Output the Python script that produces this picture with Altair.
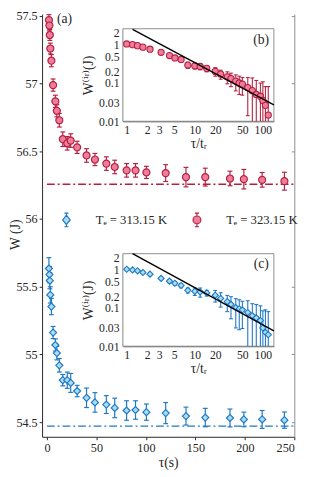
import altair as alt
import pandas as pd

# ---------------- data ----------------
tau = [2, 2.5, 2.9, 3.4, 4.5, 6.2, 8.5, 10, 12.5, 16, 20.5, 24, 30.5, 40, 48.5,
       60, 68.5, 80.5, 89.5, 100.5, 120, 140.5, 160, 185, 199, 217.5, 240]
W_red = [57.47, 57.43, 57.36, 57.26, 57.17, 56.99, 56.87, 56.80, 56.73, 56.59,
         56.56, 56.58, 56.53, 56.47, 56.44, 56.41, 56.385, 56.36, 56.36, 56.345,
         56.34, 56.31, 56.31, 56.30, 56.295, 56.29, 56.28]
err_red = [0.04, 0.04, 0.04, 0.04, 0.045, 0.045, 0.045, 0.045, 0.05, 0.054,
           0.05, 0.05, 0.045, 0.05, 0.045, 0.05, 0.05, 0.05, 0.05, 0.045,
           0.062, 0.072, 0.066, 0.054, 0.072, 0.054, 0.066]
W_blue = [55.635, 55.59, 55.545, 55.44, 55.354, 55.162, 55.07, 55.01, 54.92, 54.81,
          54.81, 54.79, 54.73, 54.68, 54.646, 54.63, 54.605, 54.586, 54.59, 54.574,
          54.567, 54.545, 54.534, 54.531, 54.52, 54.52, 54.515]
err_blue = [0.08, 0.06, 0.06, 0.06, 0.06, 0.045, 0.045, 0.05, 0.05, 0.042,
            0.06, 0.07, 0.042, 0.072, 0.072, 0.066, 0.072, 0.072, 0.068, 0.06,
            0.078, 0.066, 0.068, 0.066, 0.054, 0.066, 0.06]
W_inf_red = 56.257
W_inf_blue = 54.471
tau_line = [0, 250]

# insets: tau / t_r  and  W^(ir)
x_inset = [1, 1.22, 1.44, 1.73, 2.2, 3.2, 4.25, 5.1, 6.3, 7.9, 10, 12, 15, 20, 24,
           30, 34, 40, 45, 50, 60, 70, 80, 92, 100, 109, 120]
Wir_red = [1.04, 1.0, 0.94, 0.86, 0.76, 0.63, 0.52, 0.45, 0.41, 0.293, 0.28, 0.27,
           0.24, 0.20, 0.17, 0.145, 0.13, 0.112, 0.10, 0.093, 0.076, 0.063, 0.05,
           0.045, 0.035, 0.026, 0.0145]
Wir_blue = [1.02, 0.98, 0.93, 0.84, 0.76, 0.59, 0.50, 0.44, 0.385, 0.287, 0.271,
            0.261, 0.246, 0.214, 0.177, 0.146, 0.124, 0.102, 0.095, 0.089, 0.076,
            0.063, 0.055, 0.047, 0.030, 0.023, 0.020]
fit_x = [1.22, 145]
fit_red = [2.5, 0.0268]
fit_blue = [2.6, 0.025]

legend_labels = ["Tₑ = 313.15 K", "Tₑ = 323.15 K"]
main_y_ticks = [54.5, 55, 55.5, 56, 56.5, 57, 57.5]
main_x_ticks = [0, 50, 100, 150, 200, 250]
inset_x_ticks = [1, 2, 3, 5, 10, 20, 50, 100]
inset_y_ticks = [0.01, 0.03, 0.1, 0.2, 0.5, 1, 2]
inset_x_domain = [0.88, 145]
inset_y_domain = [0.01, 2.6]

# ---------------- style ----------------
FONT = "'Liberation Serif', 'Times New Roman', 'DejaVu Serif', serif"
RED, RED_F = "#B3203F", "#F07C9C"
BLUE, BLUE_F = "#1F78C4", "#A6DDF5"
INK = "#262626"
W_PLOT, H_PLOT = 259, 434

xs = alt.Scale(domain=[-4.92, 250], nice=False, zero=False)
ys = alt.Scale(domain=[54.392, 57.514], nice=False, zero=False)
ax_x = alt.Axis(values=main_x_ticks, format="d", title="τ(s)", orient="bottom",
                domainColor=INK, tickColor=INK, tickSize=3, labelFontSize=12.5,
                titleFontSize=14, titleFontWeight="normal", labelPadding=2,
                titlePadding=2, grid=False, labelFont=FONT, titleFont=FONT)
ax_y = alt.Axis(values=main_y_ticks, format="~g", title="W (J)", orient="left",
                domainColor=INK, tickColor=INK, tickSize=3, labelFontSize=12.5,
                titleFontSize=14, titleFontWeight="normal", labelPadding=2,
                titleX=-27, titleY=226, titleBaseline="middle", grid=False,
                labelFont=FONT, titleFont=FONT)


def X(field):
    return alt.X(field, type="quantitative", scale=xs, axis=ax_x)


def Y(field):
    return alt.Y(field, type="quantitative", scale=ys, axis=ax_y)


def main_series(W, err, color, fill, shape):
    df = pd.DataFrame({"tau": tau, "W": W,
                       "lo": [w - e for w, e in zip(W, err)],
                       "hi": [w + e for w, e in zip(W, err)]})
    base = alt.Chart(df)
    bar = base.mark_rule(color=color, strokeWidth=1.2).encode(
        x=X("tau"), y=Y("lo"), y2="hi")
    cap_lo = base.mark_tick(orient="horizontal", size=5, thickness=1.2,
                            color=color, opacity=1).encode(x=X("tau"), y=Y("lo"))
    cap_hi = base.mark_tick(orient="horizontal", size=5, thickness=1.2,
                            color=color, opacity=1).encode(x=X("tau"), y=Y("hi"))
    pts = base.mark_point(shape=shape, filled=True, fill=fill, stroke=color,
                          strokeWidth=1.2, size=52, opacity=1).encode(
        x=X("tau"), y=Y("W"))
    return [bar, cap_lo, cap_hi, pts]


def asymptote(value, color):
    df = pd.DataFrame({"tau": tau_line, "W": [value] * len(tau_line)})
    return alt.Chart(df).mark_line(color=color, strokeWidth=1.4,
                                   strokeDash=[8, 3, 2, 3]).encode(
        x=X("tau"), y=Y("W"))


# legend (symbols = marker with its error bar)
path_diamond = ("M-0.3,-1H0.3M0,-1V-0.7M0,0.7V1M-0.3,1H0.3"
                "M0,-0.7L0.55,0L0,0.7L-0.55,0Z")
path_circle = ("M-0.3,-1H0.3M0,-1V-0.57M0,0.57V1M-0.3,1H0.3"
               "M0.57,0A0.57,0.57 0 1,1 -0.57,0A0.57,0.57 0 1,1 0.57,0Z")
leg_df = pd.DataFrame({"leg": legend_labels})
leg_layer = alt.Chart(leg_df).mark_point(filled=True, opacity=0, size=196,
                                         strokeWidth=1.2).encode(
    shape=alt.Shape("leg:N", scale=alt.Scale(domain=legend_labels,
                                             range=[path_diamond, path_circle]),
                    legend=alt.Legend(orient="none", legendX=17, legendY=203,
                                      direction="horizontal", title=None,
                                      labelFont=FONT, labelFontSize=13,
                                      labelColor=INK, labelOffset=22,
                                      columnPadding=22, symbolOpacity=1,
                                      symbolStrokeWidth=1.2, symbolSize=196)),
    fill=alt.Fill("leg:N", scale=alt.Scale(domain=legend_labels,
                                           range=[BLUE_F, RED_F])),
    stroke=alt.Stroke("leg:N", scale=alt.Scale(domain=legend_labels,
                                               range=[BLUE, RED])),
)

label_a = alt.Chart(pd.DataFrame({"t": ["(a)"]})).mark_text(
    font=FONT, fontSize=14, color=INK).encode(
    text="t:N", x=alt.value(23), y=alt.value(5))

main_group = alt.layer(
    asymptote(W_inf_red, RED), asymptote(W_inf_blue, BLUE),
    *main_series(W_red, err_red, RED, RED_F, "circle"),
    *main_series(W_blue, err_blue, BLUE, BLUE_F, "diamond"),
    leg_layer, label_a,
)


# ---------------- insets ----------------
def inset(yvals, errs, fit_y, color, fill, shape, y_range, label, label_y):
    xsc = alt.Scale(type="log", domain=inset_x_domain, range=[83, 238], nice=False)
    ysc = alt.Scale(type="log", domain=inset_y_domain, range=y_range, nice=False)
    axx = alt.Axis(orient="bottom", offset=y_range[0] - H_PLOT, values=inset_x_ticks,
                   format="~g", title="τ/tᵣ", domainColor=INK, ticks=False,
                   labelPadding=4, labelFontSize=12, titleFontSize=14,
                   titleFontWeight="normal", titlePadding=1, labelOverlap=False,
                   labelFlush=False, grid=False, labelFont=FONT, titleFont=FONT)
    axy = alt.Axis(orient="left", offset=-83, values=inset_y_ticks, format="~g",
                   title="W⁽ⁱʳ⁾(J)", domainColor=INK, ticks=False, labelPadding=4,
                   labelFontSize=12, titleFontSize=14, titleFontWeight="normal",
                   titlePadding=3, labelOverlap=False, labelFlush=False, grid=False,
                   labelFont=FONT, titleFont=FONT)

    def IX(f):
        return alt.X(f, type="quantitative", scale=xsc, axis=axx)

    def IY(f):
        return alt.Y(f, type="quantitative", scale=ysc, axis=axy)

    ymin = inset_y_domain[0]
    df = pd.DataFrame({"x": x_inset, "v": yvals,
                       "lo": [max(v - e, ymin) for v, e in zip(yvals, errs)],
                       "hi": [v + e for v, e in zip(yvals, errs)]})
    df_lo = df[df["lo"] > ymin]
    frame = alt.Chart(pd.DataFrame({"x": [inset_x_domain[0]], "x2": [inset_x_domain[1]],
                                    "y": [inset_y_domain[0]], "y2": [inset_y_domain[1]]})
                      ).mark_rect(fill="white", stroke="#8c8c8c", strokeWidth=1).encode(
        x=IX("x"), x2="x2", y=IY("y"), y2="y2")
    bar = alt.Chart(df).mark_rule(color=color, strokeWidth=1.1).encode(
        x=IX("x"), y=IY("lo"), y2="hi")
    cap_hi = alt.Chart(df).mark_tick(orient="horizontal", size=4, thickness=1.1,
                                     color=color, opacity=1).encode(x=IX("x"), y=IY("hi"))
    cap_lo = alt.Chart(df_lo).mark_tick(orient="horizontal", size=4, thickness=1.1,
                                        color=color, opacity=1).encode(x=IX("x"), y=IY("lo"))
    pts = alt.Chart(df).mark_point(shape=shape, filled=True, fill=fill, stroke=color,
                                   strokeWidth=1.1, size=40, opacity=1).encode(
        x=IX("x"), y=IY("v"))
    fit = alt.Chart(pd.DataFrame({"x": fit_x, "v": fit_y})).mark_line(
        color="black", strokeWidth=1.4).encode(x=IX("x"), y=IY("v"))
    lab = alt.Chart(pd.DataFrame({"t": [label]})).mark_text(
        font=FONT, fontSize=14, color=INK).encode(
        text="t:N", x=alt.value(225), y=alt.value(label_y))
    return alt.layer(frame, bar, cap_hi, cap_lo, pts, fit, lab)


inset_b = inset(Wir_red, err_red, fit_red, RED, RED_F, "circle", [110, 15], "(b)", 27)
inset_c = inset(Wir_blue, err_blue, fit_blue, BLUE, BLUE_F, "diamond", [341, 246], "(c)", 257)

# right frame line of the main axes (ticks pointing inward)
right_frame = alt.Chart(pd.DataFrame({"W": main_y_ticks})).mark_rule(opacity=0).encode(
    y=alt.Y("W:Q", scale=ys,
            axis=alt.Axis(orient="left", offset=-W_PLOT, values=main_y_ticks,
                          labels=False, title=None, domainColor="#8c8c8c",
                          tickColor="#8c8c8c", tickSize=3, grid=False)))

chart = alt.layer(main_group, inset_b, inset_c, right_frame).resolve_scale(
    x="independent", y="independent"
).properties(
    width=W_PLOT, height=H_PLOT,
    autosize=alt.AutoSizeParams(type="none"),
    padding={"left": 35, "top": 0, "right": 12, "bottom": 35},
).configure_view(stroke=None).configure_axis(
    labelFont=FONT, titleFont=FONT, labelColor=INK, titleColor=INK
).configure_legend(labelFont=FONT).configure_text(font=FONT)

chart.save("out.html", embed_options={"renderer": "svg", "actions": False})
